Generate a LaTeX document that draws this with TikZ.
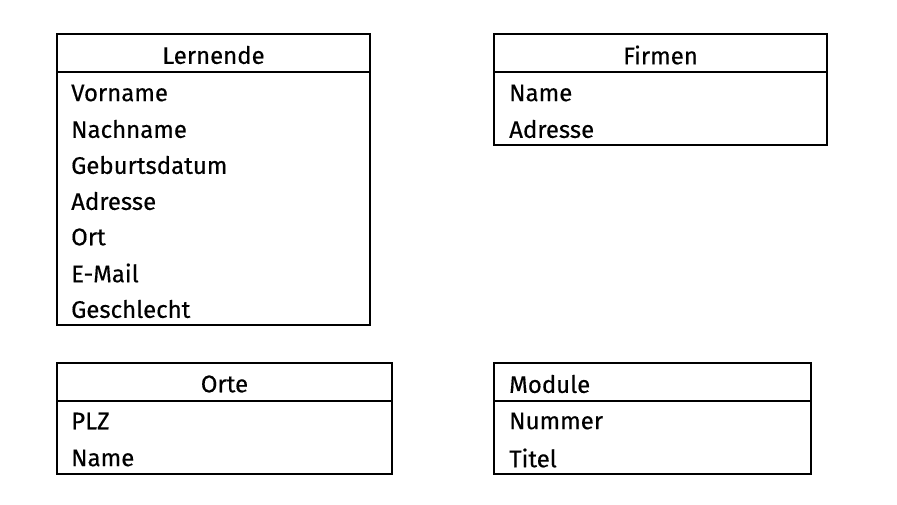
\documentclass[tikz,border=0pt]{standalone}
\usepackage{fontspec}
\setmainfont{Fira Sans}[FakeBold=0.4,BoldFont=Fira Sans]
\begin{document}
\begin{tikzpicture}[x=1pt,y=-1pt,
  tbox/.style={draw=black,line width=1.3pt},
  hdr/.style={font=\fontsize{24}{28}\selectfont\bfseries,anchor=center,inner sep=0},
  fld/.style={font=\fontsize{24}{28}\selectfont\bfseries,anchor=west,inner sep=0}]
\useasboundingbox[fill=white] (0,0) rectangle (897,504);
% Lernende
\draw[tbox] (57,34) rectangle (370,325);
\draw[tbox] (57,72) -- (370,72);
\node[hdr] (lh) at (213.5,55) {Lernende};
\node[fld] (l1) at (71,93) {Vorname};
\node[fld] (l2) at (71,129) {Nachname};
\node[fld] (l3) at (71,165) {Geburtsdatum};
\node[fld] (l4) at (71,201) {Adresse};
\node[fld] (l5) at (71,237) {Ort};
\node[fld] (l6) at (71,273) {E-Mail};
\node[fld] (l7) at (71,309) {Geschlecht};
% Firmen
\draw[tbox] (494,34) rectangle (827,145);
\draw[tbox] (494,72) -- (827,72);
\node[hdr] (fh) at (660.5,55) {Firmen};
\node[fld] (f1) at (509,93) {Name};
\node[fld] (f2) at (509,129) {Adresse};
% Orte
\draw[tbox] (57,363) rectangle (392,474);
\draw[tbox] (57,401) -- (392,401);
\node[hdr] (oh) at (224.5,384) {Orte};
\node[fld] (o1) at (71,421) {PLZ};
\node[fld] (o2) at (71,458) {Name};
% Module
\draw[tbox] (494,363) rectangle (811,474);
\draw[tbox] (494,401) -- (811,401);
\node[fld] (mh) at (509,384) {Module};
\node[fld] (m1) at (509,421) {Nummer};
\node[fld] (m2) at (509,458) {Titel};
\end{tikzpicture}
\end{document}
